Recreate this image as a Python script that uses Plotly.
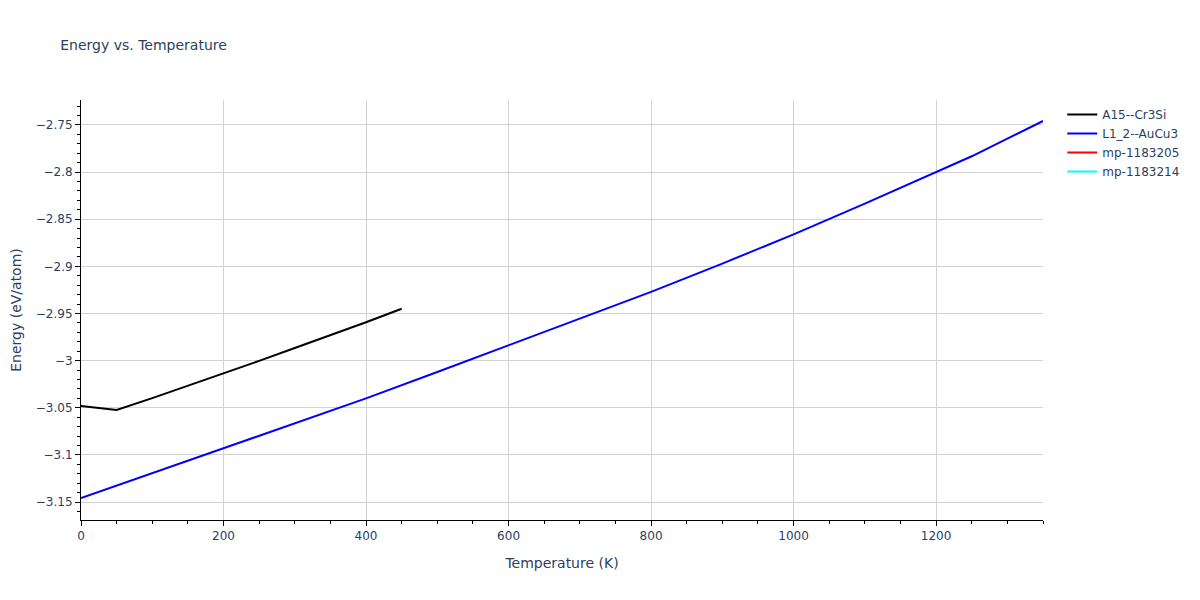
import plotly.graph_objects as go

# A15--Cr3Si
t_a15 = [0, 50, 100, 150, 200, 250, 300, 350, 400, 450]
e_a15 = [-3.0481, -3.0524, -3.0397, -3.0268, -3.0135, -3.0002, -2.9866, -2.9730, -2.9593, -2.9449]

# L1_2--AuCu3
t_l12 = [0, 100, 200, 300, 400, 500, 600, 700, 800, 900, 1000, 1100, 1150, 1200, 1250, 1300, 1350]
e_l12 = [-3.1458, -3.1195, -3.0930, -3.0665, -3.0400, -3.0120, -2.9834, -2.9550, -2.9270,
         -2.8970, -2.8660, -2.8335, -2.8168, -2.7995, -2.7832, -2.7645, -2.7458]

# mp-1183205, mp-1183214 (single points, no visible line)
t_mp05, e_mp05 = [0], [-3.1458]
t_mp14, e_mp14 = [0], [-3.1458]

series = [
    ("A15--Cr3Si", t_a15, e_a15, "black"),
    ("L1_2--AuCu3", t_l12, e_l12, "blue"),
    ("mp-1183205", t_mp05, e_mp05, "red"),
    ("mp-1183214", t_mp14, e_mp14, "cyan"),
]

fig = go.Figure()
for name, x, y, c in series:
    fig.add_trace(go.Scatter(x=x, y=y, mode="lines", name=name, line=dict(color=c, width=2)))

axis_common = dict(
    showline=True, linecolor="black", linewidth=1,
    ticks="outside", tickcolor="black", ticklen=5,
    showgrid=True, gridcolor="lightgray", zeroline=False, automargin=False,
)

fig.update_layout(
    width=1200, height=600,
    margin=dict(l=73, r=165, t=92, b=88),
    title=dict(text="Energy vs. Temperature", font=dict(size=14), x=0.0435, y=0.947),
    font=dict(family="DejaVu Sans, Verdana, sans-serif"),
    plot_bgcolor="white", paper_bgcolor="white",
    legend=dict(x=1.02, y=1),
    xaxis=dict(title=dict(text="Temperature (K)"), range=[0, 1350], dtick=200,
               minor=dict(ticks="outside", dtick=50, ticklen=3, tickcolor="black", showgrid=False),
               **axis_common),
    yaxis=dict(title=dict(text="Energy (eV/atom)", standoff=18), range=[-3.169, -2.7235], dtick=0.05,
               minor=dict(ticks="outside", dtick=0.01, ticklen=3, tickcolor="black", showgrid=False),
               **axis_common),
)

fig.write_html("out.html")
